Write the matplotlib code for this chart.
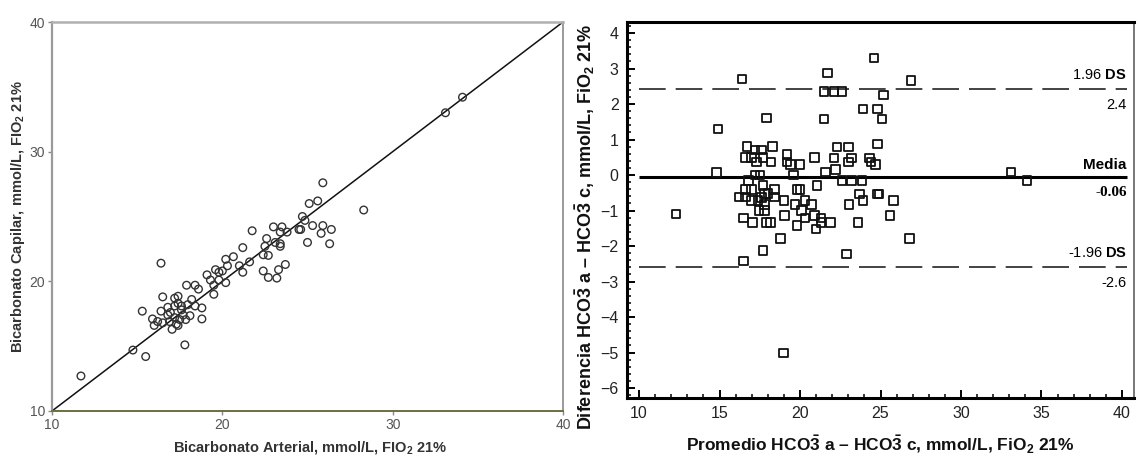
import matplotlib
matplotlib.use("Agg")
import matplotlib.pyplot as plt
from matplotlib.ticker import MultipleLocator

plt.rcParams['font.family'] = ['Liberation Sans', 'DejaVu Sans']
plt.rcParams['mathtext.fontset'] = 'custom'
plt.rcParams['mathtext.rm'] = 'Liberation Sans'
plt.rcParams['mathtext.bf'] = 'Liberation Sans:bold'
plt.rcParams['mathtext.it'] = 'Liberation Sans:italic'

# ---- Left panel: arterial vs capillary bicarbonate ----
arterial = [11.7, 14.75, 15.5, 33.1, 34.1, 28.3, 25.9, 25.6, 25.1, 24.7, 24.5, 25.3,
            25.9, 26.4, 25.8, 26.3, 25.0, 24.85, 21.75, 21.2, 23.0, 23.5, 23.4, 23.8,
            22.6, 23.1, 23.4, 22.5, 22.4, 22.7, 23.4, 23.7, 23.3, 23.2, 22.7, 22.4,
            20.65, 20.2, 21.0, 21.2, 20.3, 20.0, 21.6, 20.2, 19.1, 19.6, 19.3, 19.8,
            19.5, 19.5, 17.9, 18.4, 18.6, 16.4, 16.5, 15.3, 15.9, 16.0, 16.4, 16.8,
            17.2, 17.4, 17.4, 17.6, 16.95, 17.2, 16.9, 17.05, 17.4, 17.7, 17.85, 18.1,
            18.2, 18.4, 18.8, 18.8, 16.5, 16.2, 17.8, 17.3, 16.8, 17.6, 17.2, 17.5,
            17.97, 19.8, 24.6]
capilar = [12.7, 14.7, 14.2, 33.0, 34.2, 25.5, 27.6, 26.2, 26.0, 25.0, 24.0, 24.3,
           24.3, 24.0, 23.7, 22.9, 23.0, 24.7, 23.9, 22.6, 24.2, 24.2, 23.8, 23.8,
           23.3, 23.0, 22.7, 22.7, 22.05, 22.0, 22.9, 21.3, 20.9, 20.25, 20.3, 20.8,
           21.9, 21.7, 21.2, 20.7, 21.2, 20.8, 21.5, 19.9, 20.5, 20.9, 20.1, 20.1,
           19.7, 19.0, 19.7, 19.7, 19.4, 21.4, 18.8, 17.7, 17.1, 16.6, 17.7, 18.0,
           18.7, 18.85, 18.3, 18.1, 17.6, 17.2, 16.9, 16.3, 16.6, 17.4, 17.05, 17.35,
           18.6, 18.1, 17.95, 17.1, 16.8, 16.9, 15.1, 16.7, 17.4, 17.8, 18.1, 17.05,
           18.2, 20.7, 24.0]
left_ticks = [10, 20, 30, 40]

# ---- Right panel: Bland-Altman ----
promedio = [14.9, 14.8, 12.3, 16.4, 17.9, 18.3, 16.7, 17.2, 17.6, 16.6, 17.0, 17.7,
            17.3, 18.2, 19.2, 19.2, 19.4, 20.0, 20.9, 19.6, 17.2, 17.5, 16.8, 17.7,
            16.6, 17.0, 16.2, 16.6, 17.0, 17.4, 17.6, 17.8, 18.0, 18.4, 18.4, 17.8,
            17.45, 17.8, 16.5, 17.05, 17.9, 18.15, 19.0, 19.05, 19.8, 20.0, 19.7, 20.3,
            20.7, 20.1, 20.3, 19.8, 20.9, 21.0, 21.05, 21.3, 21.3, 21.9, 18.8, 17.7,
            16.5, 18.96, 21.5, 22.1, 22.6, 21.7, 21.5, 22.3, 22.1, 22.2, 21.6, 23.0,
            23.2, 23.0, 22.6, 23.2, 23.85, 23.04, 23.7, 23.9, 23.6, 22.9, 23.9, 24.8,
            24.6, 25.2, 25.1, 24.8, 24.3, 24.4, 24.7, 24.8, 24.9, 25.6, 25.8, 26.9,
            26.8, 33.1, 34.1]
diferencia = [1.3, 0.07, -1.1, 2.7, 1.6, 0.8, 0.8, 0.7, 0.7, 0.5, 0.5, 0.5,
              0.37, 0.37, 0.58, 0.37, 0.3, 0.3, 0.5, 0.0, 0.0, 0.0, -0.15, -0.3,
              -0.41, -0.41, -0.62, -0.62, -0.71, -0.71, -0.64, -0.52, -0.52, -0.41, -0.62, -0.83,
              -1.0, -1.0, -1.21, -1.33, -1.33, -1.33, -0.71, -1.14, -0.41, -0.41, -0.83, -0.71,
              -0.83, -1.0, -1.21, -1.42, -1.14, -1.52, -0.3, -1.21, -1.33, -1.33, -1.79, -2.12,
              -2.42, -5.01, 2.36, 2.36, 2.36, 2.87, 1.58, 0.79, 0.48, 0.16, 0.08, 0.79,
              0.48, 0.37, -0.15, -0.15, -0.15, -0.83, -0.53, -0.71, -1.33, -2.22, 1.86, 1.86,
              3.3, 2.26, 1.58, 0.87, 0.48, 0.37, 0.3, -0.53, -0.53, -1.14, -0.71, 2.67,
              -1.79, 0.08, -0.15]
media = -0.06
ds_sup = 2.43
ds_inf = -2.59
right_xticks = [10, 15, 20, 25, 30, 35, 40]
right_yticks = [-6, -5, -4, -3, -2, -1, 0, 1, 2, 3, 4]

W, H = 1138, 457
fig = plt.figure(figsize=(W / 100, H / 100), dpi=100)

# ===== Left axes =====
axl = fig.add_axes([52 / W, 1 - 411 / H, (563 - 52) / W, (411 - 22) / H])
axl.set_xlim(10, 40)
axl.set_ylim(10, 40)
axl.plot([10, 40], [10, 40], color='#111111', lw=1.1, zorder=2)
axl.scatter(arterial, capilar, s=30, facecolors='none', edgecolors='#333333',
            linewidths=1.0, zorder=3, clip_on=False)
axl.set_xticks(left_ticks)
axl.set_yticks(left_ticks)
axl.tick_params(axis='both', labelsize=10, labelcolor='#555555', color='#888888',
                length=3, width=1, direction='out', pad=2)
axl.spines['left'].set_color('#9a9a9a')
axl.spines['left'].set_linewidth(1.6)
axl.spines['top'].set_color('#b0b0b0')
axl.spines['top'].set_linewidth(1.8)
axl.spines['right'].set_color('#9a9a9a')
axl.spines['right'].set_linewidth(1.4)
axl.spines['bottom'].set_color('#6e6e42')
axl.spines['bottom'].set_linewidth(1.4)

fig.text(310 / W, 1 - 447 / H, r"Bicarbonato Arterial, mmol/L, FIO$_\mathbf{2}$ 21%",
         ha='center', va='center', fontsize=10.5, fontweight='bold', color='#333333')
fig.text(18 / W, 1 - 217 / H, r"Bicarbonato Capilar, mmol/L, FIO$_\mathbf{2}$ 21%",
         ha='center', va='center', fontsize=10.5, fontweight='bold', color='#333333',
         rotation=90)

# ===== Right axes =====
axr = fig.add_axes([627 / W, 1 - 398 / H, (1134 - 627) / W, (398 - 22) / H])
axr.set_xlim(9.25, 40.75)
axr.set_ylim(-6.28, 4.31)
axr.scatter(promedio, diferencia, marker='s', s=38, facecolors='none',
            edgecolors='#111111', linewidths=1.3, zorder=3)
axr.hlines(media, 10, 40.3, colors='black', lw=2.2, zorder=2)
for yv in (ds_sup, ds_inf):
    axr.hlines(yv, 10, 40.3, colors='#222222', lw=1.2, linestyles=(0, (16, 6)), zorder=2)

tx = 40.3
axr.text(tx, ds_sup + 0.2, r"1.96 $\mathbf{DS}$", ha='right', va='bottom', fontsize=10.5)
axr.text(tx, ds_sup - 0.25, f"{ds_sup:.1f}", ha='right', va='top', fontsize=10.5)
axr.text(tx, media + 0.15, "Media", ha='right', va='bottom', fontsize=11, fontweight='bold')
axr.text(tx, media - 0.25, f"{media:.2f}", ha='right', va='top', fontsize=11,
         fontweight='bold', family='Liberation Serif')
axr.text(tx, ds_inf + 0.2, r"-1.96 $\mathbf{DS}$", ha='right', va='bottom', fontsize=10.5)
axr.text(tx, ds_inf - 0.25, f"{ds_inf:.1f}", ha='right', va='top', fontsize=10.5)

axr.set_xticks(right_xticks)
axr.set_yticks(right_yticks)
axr.xaxis.set_minor_locator(MultipleLocator(1))
axr.yaxis.set_minor_locator(MultipleLocator(0.2))
axr.tick_params(which='major', direction='in', length=6, width=1.4, labelsize=11.5,
                color='black', labelcolor='#222222', pad=6)
axr.tick_params(which='minor', direction='in', length=3, width=1.1, color='black')
for side in ('left', 'top', 'bottom'):
    axr.spines[side].set_linewidth(2.2)
    axr.spines[side].set_color('black')
axr.spines['right'].set_linewidth(1.4)
axr.spines['right'].set_color('#777777')

fig.text(880 / W, 1 - 445 / H,
         r"Promedio HCO$\mathbf{\bar{3}}$ a – HCO$\mathbf{\bar{3}}$ c, mmol/L, FiO$_\mathbf{2}$ 21%",
         ha='center', va='center', fontsize=12.5, fontweight='bold', color='#111111')
fig.text(585 / W, 1 - 227 / H,
         r"Diferencia HCO$\mathbf{\bar{3}}$ a – HCO$\mathbf{\bar{3}}$ c, mmol/L, FiO$_\mathbf{2}$ 21%",
         ha='center', va='center', fontsize=13, fontweight='bold', color='#111111',
         rotation=90)

fig.savefig("out.png", dpi=100, facecolor='white')
